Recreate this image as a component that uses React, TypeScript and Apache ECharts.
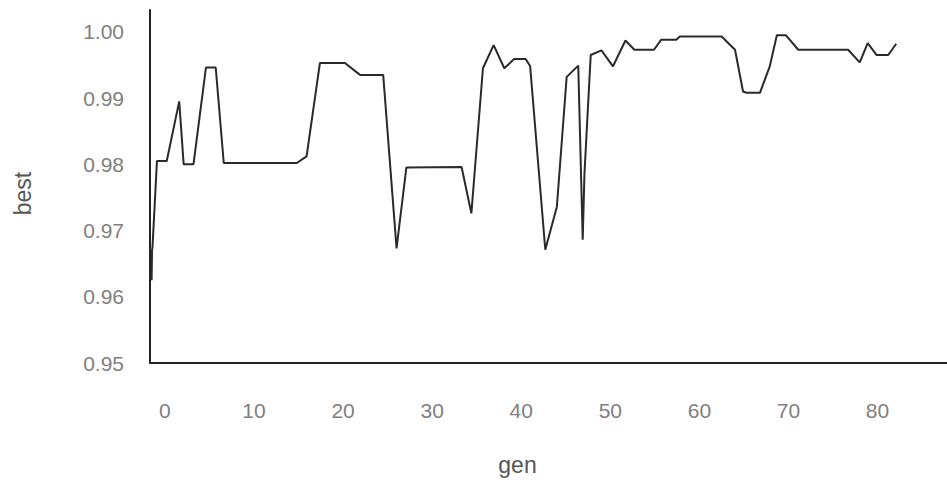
import React, { useEffect, useRef } from "react";
import * as echarts from "echarts";

const gens = [
  -1.5, -1.45, -1.4, -0.9, 0.2, 1.6, 2.1, 3.2, 4.6, 5.7, 6.6, 14.8, 15.9, 17.4, 20.2, 21.9, 24.5,
  26.0, 27.1, 33.3, 34.4, 35.7, 36.9, 38.1, 39.2, 40.5, 41.0, 42.7, 44.0, 45.1, 46.4, 46.7,
  46.9, 47.1, 47.8, 49.0, 50.3, 51.7, 52.7, 54.9, 55.7, 57.4, 57.8, 62.5, 64.0, 64.9, 65.3,
  66.8, 67.9, 68.7, 69.7, 71.1, 76.7, 78.0, 78.9, 79.9, 81.2, 82.1,
];
const best = [
  0.9625, 0.967, 0.9675, 0.9805, 0.9805, 0.9895, 0.98, 0.98, 0.9946, 0.9946, 0.9802, 0.9802, 0.9812,
  0.9953, 0.9953, 0.9935, 0.9935, 0.9673, 0.9795, 0.9796, 0.9726, 0.9945, 0.998, 0.9945,
  0.9959, 0.9959, 0.9948, 0.9671, 0.9736, 0.9932, 0.9949, 0.9792, 0.9686, 0.9787, 0.9965,
  0.9972, 0.9948, 0.9987, 0.9973, 0.9973, 0.9988, 0.9988, 0.9993, 0.9993, 0.9973, 0.991,
  0.9908, 0.9908, 0.9948, 0.9995, 0.9995, 0.9973, 0.9973, 0.9954, 0.9983, 0.9965, 0.9965,
  0.9982,
];
const xTicks = [0, 10, 20, 30, 40, 50, 60, 70, 80];
const yTicks = [0.95, 0.96, 0.97, 0.98, 0.99, 1.0];

export default function App() {
  const ref = useRef<HTMLDivElement>(null);
  useEffect(() => {
    if (!ref.current) return;
    const chart = echarts.init(ref.current, null, { renderer: "svg" });
    const font = "'Liberation Sans', Arial, sans-serif";
    chart.setOption({
      animation: false,
      backgroundColor: "#ffffff",
      grid: { left: 150, right: 0, top: 10, bottom: 120, containLabel: false },
      xAxis: {
        type: "value",
        min: -1.68,
        max: 87.8,
        name: "gen",
        nameLocation: "middle",
        nameGap: 90,
        nameTextStyle: { fontSize: 23, color: "#555", fontFamily: font, padding: [0, 62, 0, 0] },
        axisLine: { show: true, onZero: false, lineStyle: { color: "#222", width: 2 } },
        axisTick: { show: false },
        splitLine: { show: false },
        axisLabel: {
          customValues: xTicks,
          margin: 37,
          fontSize: 21,
          color: "#808080",
          fontFamily: font,
          formatter: (v: number) => String(v),
        },
      },
      yAxis: {
        type: "value",
        min: 0.95,
        max: 1.0033,
        name: "best",
        nameLocation: "middle",
        nameRotate: 90,
        nameGap: 116,
        nameTextStyle: { fontSize: 23, color: "#555", fontFamily: font, padding: [0, 14, 0, 0] },
        axisLine: { show: true, onZero: false, lineStyle: { color: "#222", width: 2 } },
        axisTick: { show: false },
        splitLine: { show: false },
        axisLabel: {
          customValues: yTicks,
          margin: 26,
          fontSize: 21,
          color: "#808080",
          fontFamily: font,
          formatter: (v: number) => v.toFixed(2),
        },
      },
      series: [
        {
          type: "line",
          data: gens.map((g, i) => [g, best[i]]),
          showSymbol: false,
          symbol: "none",
          lineStyle: { color: "#2a2a2a", width: 2 },
        },
      ],
    });
    return () => chart.dispose();
  }, []);
  return (
    <div
      ref={ref}
      style={{ position: "fixed", left: 0, top: 0, width: 947, height: 483, background: "#fff" }}
    />
  );
}
